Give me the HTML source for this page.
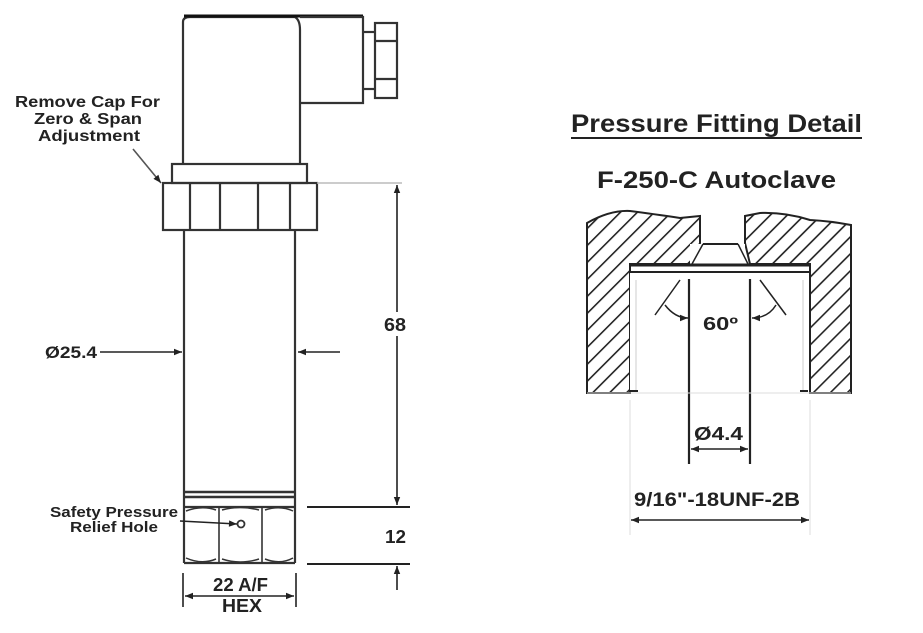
<!DOCTYPE html>
<html><head><meta charset="utf-8"><style>
html,body{margin:0;padding:0;background:#fff;}
svg{display:block;}
text{font-family:"Liberation Sans",Arial,sans-serif;font-weight:bold;fill:#222;}
</style></head><body>
<svg width="923" height="633" viewBox="0 0 923 633" xmlns="http://www.w3.org/2000/svg">
<defs>
<pattern id="h" patternUnits="userSpaceOnUse" width="12" height="12" patternTransform="rotate(45)">
<line x1="0" y1="0" x2="0" y2="12" stroke="#222" stroke-width="3.2"/>
</pattern>
<marker id="a" viewBox="0 0 10 10" refX="10" refY="5" markerWidth="14" markerHeight="8" orient="auto-start-reverse" markerUnits="userSpaceOnUse">
<path d="M0,1 L10,5 L0,9 z" fill="#222"/>
</marker>
</defs>
<g stroke="#333" stroke-width="2.2" fill="none">
<path d="M183,165 V22 Q183,17 190,17 H295 Q300,20 300,30 V165"/>
<line x1="184" y1="16" x2="363" y2="16" stroke="#111" stroke-width="3"/>
<path d="M300,17 H363 V103 H300"/>
<line x1="363" y1="32" x2="375" y2="32"/><line x1="363" y1="89" x2="375" y2="89"/>
<rect x="375" y="23" width="22" height="75"/>
<line x1="375" y1="41" x2="397" y2="41"/><line x1="375" y1="79" x2="397" y2="79"/>
<rect x="172" y="164" width="135" height="19"/>
<rect x="163" y="183" width="154" height="47"/>
<line x1="190" y1="183" x2="190" y2="230"/><line x1="220" y1="183" x2="220" y2="230"/>
<line x1="258" y1="183" x2="258" y2="230"/><line x1="290" y1="183" x2="290" y2="230"/>
<line x1="184" y1="230" x2="184" y2="563"/><line x1="295" y1="230" x2="295" y2="563"/>
<line x1="184" y1="492" x2="295" y2="492" stroke-width="2.5"/><line x1="184" y1="497" x2="295" y2="497" stroke-width="2.5"/>
<line x1="184" y1="507" x2="295" y2="507"/><line x1="184" y1="563" x2="295" y2="563"/>
<line x1="219" y1="507" x2="219" y2="563" stroke-width="1.6"/><line x1="262" y1="507" x2="262" y2="563" stroke-width="1.6"/>
<path d="M186,511 Q202,505 216,510 M222,510 Q240,505 259,510 M265,510 Q280,505 293,511" stroke-width="1.5"/>
<path d="M186,558 Q202,565 216,559 M222,559 Q240,565 259,559 M265,559 Q280,565 293,558" stroke-width="1.5"/>
<circle cx="241" cy="524" r="3.5" stroke-width="1.8"/>
</g>
<g stroke="#222" stroke-width="1.6" fill="none">
<line x1="180" y1="521" x2="237" y2="524" marker-end="url(#a)"/>
<line x1="133" y1="149" x2="161" y2="183" stroke="#555" marker-end="url(#a)"/>
<line x1="100" y1="352" x2="182" y2="352" marker-end="url(#a)"/>
<line x1="340" y1="352" x2="298" y2="352" marker-end="url(#a)"/>
<line x1="317" y1="183" x2="402" y2="183" stroke="#bbb"/>
<line x1="397" y1="185" x2="397" y2="505" marker-start="url(#a)" marker-end="url(#a)"/>
<line x1="307" y1="507" x2="410" y2="507" stroke-width="2"/>
<line x1="307" y1="564" x2="410" y2="564" stroke-width="2"/>
<line x1="397" y1="590" x2="397" y2="566" marker-end="url(#a)"/>
<line x1="183" y1="573" x2="183" y2="607"/><line x1="296" y1="573" x2="296" y2="607"/>
<line x1="185" y1="596" x2="294" y2="596" marker-start="url(#a)" marker-end="url(#a)"/>
</g>
<rect x="382" y="312" width="26" height="24" fill="#fff"/>
<text x="15" y="107" font-size="16" textLength="145" lengthAdjust="spacingAndGlyphs">Remove Cap For</text>
<text x="34" y="124" font-size="16" textLength="108" lengthAdjust="spacingAndGlyphs">Zero &amp; Span</text>
<text x="38" y="141" font-size="16" textLength="102" lengthAdjust="spacingAndGlyphs">Adjustment</text>
<text x="45" y="358" font-size="17" textLength="52" lengthAdjust="spacingAndGlyphs">Ø25.4</text>
<text x="384" y="331" font-size="18" textLength="22" lengthAdjust="spacingAndGlyphs">68</text>
<text x="385" y="543" font-size="18" textLength="21" lengthAdjust="spacingAndGlyphs">12</text>
<text x="50" y="517" font-size="15" textLength="128" lengthAdjust="spacingAndGlyphs">Safety Pressure</text>
<text x="70" y="532" font-size="15" textLength="88" lengthAdjust="spacingAndGlyphs">Relief Hole</text>
<text x="213" y="591" font-size="18" textLength="55" lengthAdjust="spacingAndGlyphs">22 A/F</text>
<text x="222" y="612" font-size="18" textLength="40" lengthAdjust="spacingAndGlyphs">HEX</text>
<text x="571" y="132" font-size="25" textLength="291" lengthAdjust="spacingAndGlyphs">Pressure Fitting Detail</text>
<line x1="571" y1="138" x2="862" y2="138" stroke="#222" stroke-width="2"/>
<text x="597" y="188" font-size="24" textLength="239" lengthAdjust="spacingAndGlyphs">F-250-C Autoclave</text>
<path d="M587,393 V223 Q610,210 630,211 Q660,215 680,218 L700,216 V243 L690,264 H630 V393 Z" fill="url(#h)" stroke="#222" stroke-width="2"/>
<path d="M851,393 V225 Q830,221 810,220 Q785,212 760,213 L745,216 V243 L750,264 H810 V393 Z" fill="url(#h)" stroke="#222" stroke-width="2"/>
<g stroke="#222" fill="none">
<rect x="690" y="244" width="55" height="20" fill="#fff" stroke="none"/>
<line x1="703" y1="244" x2="738" y2="244" stroke-width="2"/>
<line x1="703" y1="244" x2="692" y2="264" stroke-width="1.5"/>
<line x1="738" y1="244" x2="748" y2="264" stroke-width="1.5"/>
<line x1="630" y1="265" x2="810" y2="265" stroke-width="3"/>
<line x1="630" y1="272" x2="810" y2="272" stroke-width="2"/>
<rect x="630" y="273" width="178" height="118" fill="#fff" stroke="none"/>
<line x1="636" y1="280" x2="636" y2="390" stroke="#ccc"/><line x1="803" y1="280" x2="803" y2="390" stroke="#ccc"/>
<line x1="630" y1="391" x2="638" y2="391" stroke-width="2"/><line x1="800" y1="391" x2="808" y2="391" stroke-width="2"/>
<line x1="689" y1="279" x2="689" y2="464" stroke-width="2.2"/>
<line x1="750" y1="279" x2="750" y2="464" stroke-width="2.2"/>
<line x1="680" y1="280" x2="655" y2="315" stroke-width="1.5"/>
<line x1="760" y1="280" x2="786" y2="315" stroke-width="1.5"/>
<path d="M665,305 Q675,318 688,318" stroke-width="1.5" marker-end="url(#a)"/>
<path d="M776,305 Q768,318 752,318" stroke-width="1.5" marker-end="url(#a)"/>
<line x1="587" y1="393" x2="851" y2="393" stroke="#ddd"/>
<line x1="630" y1="400" x2="630" y2="535" stroke="#ddd"/>
<line x1="810" y1="400" x2="810" y2="535" stroke="#ddd"/>
<line x1="691" y1="449" x2="748" y2="449" stroke-width="1.5" marker-start="url(#a)" marker-end="url(#a)"/>
<line x1="631" y1="520" x2="809" y2="520" stroke-width="1.5" marker-start="url(#a)" marker-end="url(#a)"/>
</g>
<text x="703" y="330" font-size="18" textLength="35" lengthAdjust="spacingAndGlyphs">60º</text>
<text x="694" y="440" font-size="18" textLength="49" lengthAdjust="spacingAndGlyphs">Ø4.4</text>
<text x="634" y="506" font-size="19" textLength="166" lengthAdjust="spacingAndGlyphs">9/16"-18UNF-2B</text>
</svg>
</body></html>
